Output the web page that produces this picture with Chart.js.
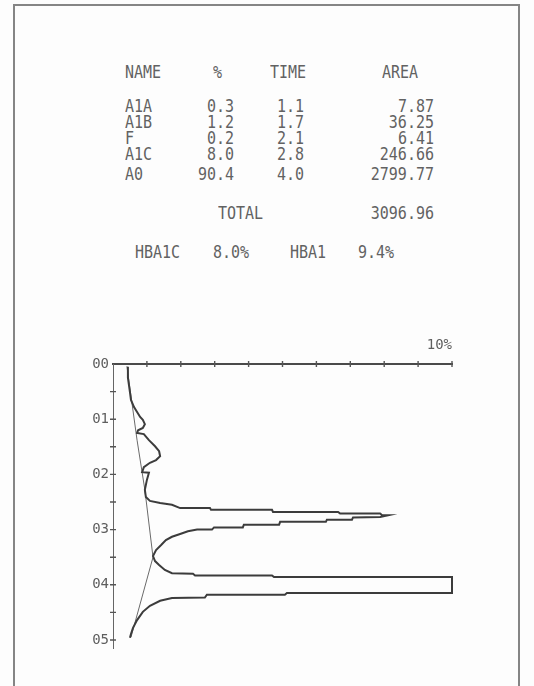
<!DOCTYPE html>
<html>
<head>
<meta charset="utf-8">
<script src="https://cdn.jsdelivr.net/npm/chart.js"></script>
<style>
  body { margin: 0; background: #fdfdfd; }
  #page { position: relative; width: 534px; height: 686px; overflow: hidden; }
  .frame { position: absolute; left: 13px; top: 4px; width: 503px; height: 720px; border: 2px solid #858585; }
  .t { position: absolute; font-family: "DejaVu Sans Mono", monospace; font-size: 15px; line-height: 15px;
       color: #626262; white-space: pre; transform: scaleY(1.2); }
  #chartBox { position: absolute; left: 0; top: 300px; width: 534px; height: 386px; }
</style>
</head>
<body>
<div id="page">
  <div class="frame"></div>
  <div id="report"></div>
  <div id="chartBox"><canvas id="chrom"></canvas></div>
</div>

<script>
// peak report
const peakNames = ["A1A", "A1B", "F", "A1C", "A0"];
const peakPct   = ["0.3", "1.2", "0.2", "8.0", "90.4"];
const peakTime  = ["1.1", "1.7", "2.1", "2.8", "4.0"];
const peakArea  = ["7.87", "36.25", "6.41", "246.66", "2799.77"];
const totalArea = "3096.96";
const hba1c = "8.0%";
const hba1  = "9.4%";

// axis ticks: minutes down the side, signal across the top
const timeTicks = [0, 0.5, 1, 1.5, 2, 2.5, 3, 3.5, 4, 4.5, 5];
const timeLabels = ["00", "", "01", "", "02", "", "03", "", "04", "", "05"];
const signalTicks = [0, 1, 2, 3, 4, 5, 6, 7, 8, 9, 10];
const signalLabel = "10%";

// chromatogram trace: time (min) down, signal across (full scale = 10)
const traceTime = [0.05, 0.25, 0.51, 0.65, 0.78, 0.87, 0.96, 1.01, 1.09, 1.16, 1.20, 1.25, 1.27, 1.38, 1.49,
  1.58, 1.67, 1.74, 1.79, 1.87, 1.96, 1.97, 2.10, 2.28, 2.41, 2.48, 2.52, 2.55, 2.61, 2.61, 2.64, 2.64,
  2.68, 2.68, 2.71, 2.71, 2.74, 2.74, 2.77, 2.78, 2.82, 2.82, 2.86, 2.86, 2.91, 2.91, 2.96, 2.96, 3.00,
  3.00, 3.03, 3.08, 3.13, 3.19, 3.28, 3.37, 3.48, 3.57, 3.64, 3.73, 3.79, 3.80, 3.83, 3.83, 3.86, 3.86,
  4.15, 4.15, 4.18, 4.18, 4.23, 4.24, 4.29, 4.38, 4.49, 4.64, 4.78, 4.89, 4.96];
const traceSignal = [0.44, 0.44, 0.50, 0.53, 0.62, 0.71, 0.80, 0.88, 0.94, 0.88, 0.74, 0.71, 0.91, 1.06, 1.24,
  1.36, 1.39, 1.27, 1.09, 0.91, 0.86, 1.06, 1.00, 0.94, 0.97, 1.09, 1.39, 1.74, 1.98, 2.86, 2.89, 4.69,
  4.72, 6.64, 6.70, 7.88, 7.94, 8.11, 7.88, 7.08, 7.05, 6.31, 6.28, 4.93, 4.90, 3.86, 3.83, 2.98, 2.92,
  2.48, 2.21, 1.98, 1.74, 1.56, 1.42, 1.27, 1.18, 1.24, 1.36, 1.53, 1.74, 2.36, 2.42, 4.69, 4.75, 10.0,
  10.0, 5.13, 5.07, 2.77, 2.71, 1.74, 1.39, 1.09, 0.88, 0.71, 0.59, 0.53, 0.50];

// integrator baseline
const baseTime   = [0.04, 1.38, 2.28, 3.50, 4.95];
const baseSignal = [0.41, 0.71, 0.94, 1.18, 0.53];

// report text layout
const report = document.getElementById('report');
function put(text, x, yc, right) {
  const s = document.createElement('span');
  s.className = 't';
  s.textContent = text;
  s.style.top = (yc - 7) + 'px';
  if (right) s.style.right = (534 - x) + 'px'; else s.style.left = x + 'px';
  report.appendChild(s);
}
put("NAME", 125, 72); put("%", 213, 72); put("TIME", 270, 72); put("AREA", 382, 72);
const rowY = [106, 122, 138, 154, 174];
peakNames.forEach((n, i) => {
  put(n, 125, rowY[i]);
  put(peakPct[i], 234, rowY[i], true);
  put(peakTime[i], 304, rowY[i], true);
  put(peakArea[i], 434, rowY[i], true);
});
put("TOTAL", 218, 213); put(totalArea, 434, 213, true);
put("HBA1C", 135, 252); put(hba1c, 213, 252); put("HBA1", 290, 252); put(hba1, 358, 252);

const toPts = (ts, ss) => ts.map((t, i) => ({ x: ss[i], y: t }));

// small cross marks through both axes, like the plotter draws them
const crossTicks = {
  id: 'crossTicks',
  afterDatasetsDraw(chart) {
    const { ctx, scales: { x, y } } = chart;
    ctx.save();
    ctx.strokeStyle = '#555';
    ctx.lineWidth = 1.4;
    ctx.beginPath();
    signalTicks.slice(1).forEach(v => {
      const px = x.getPixelForValue(v);
      ctx.moveTo(px, y.top - 3); ctx.lineTo(px, y.top + 3);
    });
    timeTicks.slice(1).forEach(v => {
      const py = y.getPixelForValue(v);
      ctx.moveTo(x.left - 3, py); ctx.lineTo(x.left + 3, py);
    });
    ctx.stroke();
    ctx.restore();
  }
};

new Chart(document.getElementById('chrom'), {
  type: 'scatter',
  data: {
    datasets: [
      { data: toPts(traceTime, traceSignal), showLine: true, borderColor: '#3c3c3c', borderWidth: 2,
        pointRadius: 0, tension: 0, clip: 6 },
      { data: toPts(baseTime, baseSignal), showLine: true, borderColor: '#6a6a6a', borderWidth: 1,
        pointRadius: 0, tension: 0 }
    ]
  },
  options: {
    responsive: true,
    maintainAspectRatio: false,
    animation: false,
    layout: { padding: { left: 83, right: 82, top: 34, bottom: 38 } },
    plugins: { legend: { display: false }, tooltip: { enabled: false } },
    scales: {
      x: {
        position: 'top', min: 0, max: 10,
        afterFit: s => { s.height = 30; },
        afterBuildTicks: s => { s.ticks = signalTicks.map(v => ({ value: v })); },
        border: { display: true, color: '#4a4a4a', width: 2 },
        grid: { drawOnChartArea: false, drawTicks: false },
        ticks: {
          autoSkip: false, maxRotation: 0, align: 'end', padding: 10,
          color: '#5e5e5e', font: { family: 'DejaVu Sans Mono', size: 14 },
          callback: (v, i) => i === signalTicks.length - 1 ? signalLabel : ''
        }
      },
      y: {
        reverse: true, min: 0, max: 5.145,
        afterFit: s => { s.width = 30; },
        afterBuildTicks: s => { s.ticks = timeTicks.map(v => ({ value: v })); },
        border: { display: true, color: '#666', width: 1 },
        grid: { drawOnChartArea: false, drawTicks: false },
        ticks: {
          autoSkip: false, padding: 4,
          color: '#5e5e5e', font: { family: 'DejaVu Sans Mono', size: 14 },
          callback: (v, i) => timeLabels[i]
        }
      }
    }
  },
  plugins: [crossTicks]
});
</script>
</body>
</html>
